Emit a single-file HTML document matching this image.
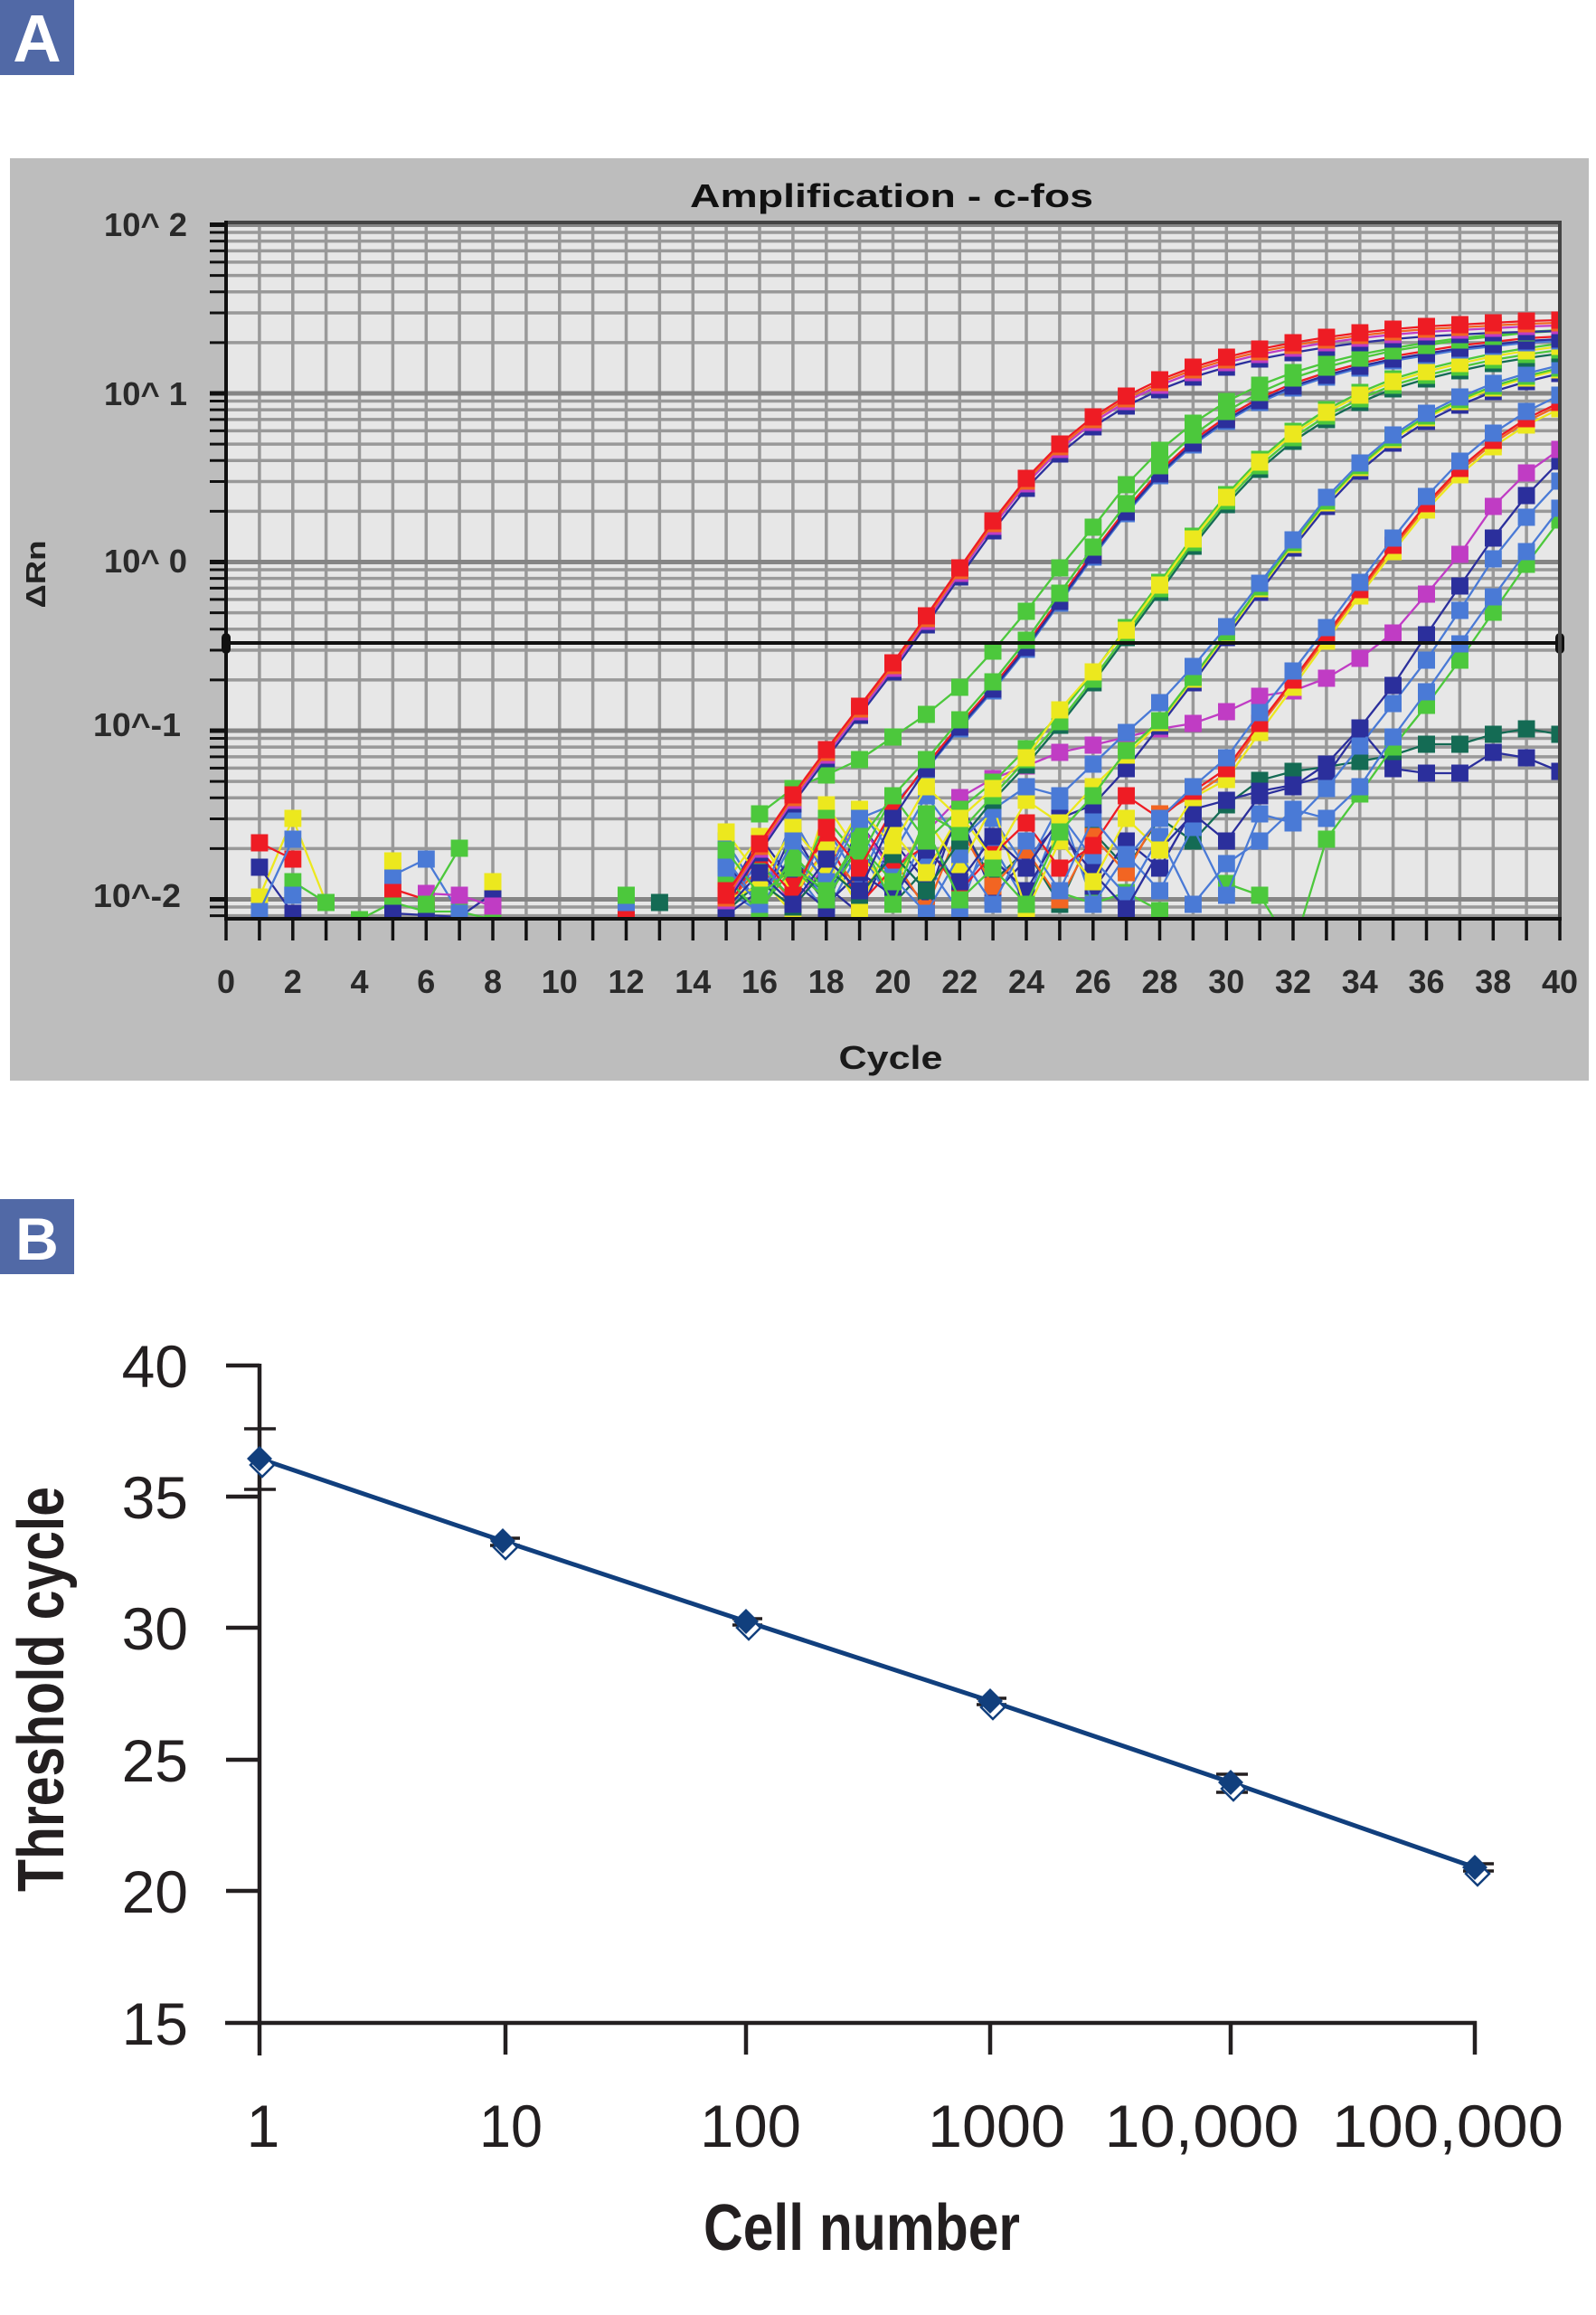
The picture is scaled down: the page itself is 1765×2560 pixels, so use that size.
<!DOCTYPE html>
<html>
<head>
<meta charset="utf-8">
<style>
html,body{margin:0;padding:0;background:#fff;}
body{width:1765px;height:2560px;overflow:hidden;}
svg{display:block;}
.cv polyline{fill:none;stroke-width:2.3;}
.r{stroke:#ee1c24;marker-start:url(#mr);marker-mid:url(#mr);marker-end:url(#mr);}
.g{stroke:#4cc83c;marker-start:url(#mg);marker-mid:url(#mg);marker-end:url(#mg);}
.y{stroke:#ece81e;marker-start:url(#my);marker-mid:url(#my);marker-end:url(#my);}
.b{stroke:#4a7ad6;marker-start:url(#mb);marker-mid:url(#mb);marker-end:url(#mb);}
.n{stroke:#2b2f9c;marker-start:url(#mn);marker-mid:url(#mn);marker-end:url(#mn);}
.m{stroke:#c03cc4;marker-start:url(#mm);marker-mid:url(#mm);marker-end:url(#mm);}
.t{stroke:#146b54;marker-start:url(#mt);marker-mid:url(#mt);marker-end:url(#mt);}
.o{stroke:#f26522;marker-start:url(#mo);marker-mid:url(#mo);marker-end:url(#mo);}
</style>
</head>
<body>
<svg width="1765" height="2560" viewBox="0 0 1765 2560" xmlns="http://www.w3.org/2000/svg" font-family="Liberation Sans, Arial, sans-serif">
<defs>
<clipPath id="pc"><rect x="250" y="246" width="1475" height="770"/></clipPath>
<marker id="mr" viewBox="0 0 19 19" refX="9.5" refY="9.5" markerWidth="19" markerHeight="19" markerUnits="userSpaceOnUse"><rect width="19" height="19" fill="#ee1c24"/></marker>
<marker id="mg" viewBox="0 0 19 19" refX="9.5" refY="9.5" markerWidth="19" markerHeight="19" markerUnits="userSpaceOnUse"><rect width="19" height="19" fill="#4cc83c"/></marker>
<marker id="my" viewBox="0 0 19 19" refX="9.5" refY="9.5" markerWidth="19" markerHeight="19" markerUnits="userSpaceOnUse"><rect width="19" height="19" fill="#ece81e"/></marker>
<marker id="mb" viewBox="0 0 19 19" refX="9.5" refY="9.5" markerWidth="19" markerHeight="19" markerUnits="userSpaceOnUse"><rect width="19" height="19" fill="#4a7ad6"/></marker>
<marker id="mn" viewBox="0 0 19 19" refX="9.5" refY="9.5" markerWidth="19" markerHeight="19" markerUnits="userSpaceOnUse"><rect width="19" height="19" fill="#2b2f9c"/></marker>
<marker id="mm" viewBox="0 0 19 19" refX="9.5" refY="9.5" markerWidth="19" markerHeight="19" markerUnits="userSpaceOnUse"><rect width="19" height="19" fill="#c03cc4"/></marker>
<marker id="mt" viewBox="0 0 19 19" refX="9.5" refY="9.5" markerWidth="19" markerHeight="19" markerUnits="userSpaceOnUse"><rect width="19" height="19" fill="#146b54"/></marker>
<marker id="mo" viewBox="0 0 19 19" refX="9.5" refY="9.5" markerWidth="19" markerHeight="19" markerUnits="userSpaceOnUse"><rect width="19" height="19" fill="#f26522"/></marker>
</defs>

<!-- Panel A label -->
<rect x="0" y="0" width="82" height="83" fill="#5169a6"/>
<text x="41" y="68" font-size="74" font-weight="bold" fill="#fff" text-anchor="middle">A</text>

<!-- Panel A chart background -->
<rect x="11" y="175" width="1746" height="1020" fill="#bdbdbd"/>
<rect x="250" y="246" width="1475" height="770" fill="#e7e7e7"/>

<!-- grid -->
<path fill="none" stroke="#999" stroke-width="3.5" d="M286.9 246V1016M323.8 246V1016M360.6 246V1016M397.5 246V1016M434.4 246V1016M471.3 246V1016M508.1 246V1016M545 246V1016M581.9 246V1016M618.8 246V1016M655.6 246V1016M692.5 246V1016M729.4 246V1016M766.3 246V1016M803.1 246V1016M840 246V1016M876.9 246V1016M913.8 246V1016M950.6 246V1016M987.5 246V1016M1024.4 246V1016M1061.3 246V1016M1098.1 246V1016M1135 246V1016M1171.9 246V1016M1208.8 246V1016M1245.6 246V1016M1282.5 246V1016M1319.4 246V1016M1356.3 246V1016M1393.1 246V1016M1430 246V1016M1466.9 246V1016M1503.8 246V1016M1540.6 246V1016M1577.5 246V1016M1614.4 246V1016M1651.3 246V1016M1688.1 246V1016"/>
<path fill="none" stroke="#999" stroke-width="3.5" d="M250 257H1725M250 266.6H1725M250 277.4H1725M250 289.9H1725M250 304.6H1725M250 322.7H1725M250 346H1725M250 378.9H1725M250 443.5H1725M250 453.1H1725M250 463.9H1725M250 476.4H1725M250 491.1H1725M250 509.2H1725M250 532.5H1725M250 565.4H1725M250 630H1725M250 639.6H1725M250 650.4H1725M250 662.9H1725M250 677.6H1725M250 695.7H1725M250 719H1725M250 751.9H1725M250 816.5H1725M250 826.1H1725M250 836.9H1725M250 849.4H1725M250 864.1H1725M250 882.2H1725M250 905.5H1725M250 938.4H1725M250 1003H1725M250 1012.6H1725"/>
<path fill="none" stroke="#858585" stroke-width="5" d="M250 248.5H1725M250 435H1725M250 621.5H1725M250 808H1725M250 994.5H1725"/>

<!-- curves -->
<g class="cv" clip-path="url(#pc)">
<polyline class="t" points="803.1,980 840,1005 876.9,950 913.8,990 950.6,935 987.5,1000 1024.4,960 1061.3,910 1098.1,975 1135,940 1171.9,1000 1208.8,920 1245.6,960 1282.5,905 1319.4,930 1356.3,890 1393.1,863 1430,853 1466.9,848 1503.8,842 1540.6,835 1577.5,823 1614.4,823 1651.3,812 1688.1,806 1725,812"/>
<polyline class="n" points="803.1,955 840,1000 876.9,920 913.8,980 950.6,1010 987.5,930 1024.4,975 1061.3,900 1098.1,990 1135,950 1171.9,910 1208.8,985 1245.6,930 1282.5,960 1319.4,895 1356.3,885 1393.1,875 1430,868 1466.9,858 1503.8,806 1540.6,850 1577.5,855 1614.4,855 1651.3,832 1688.1,838 1725,853"/>
<polyline class="g" points="1171.9,987 1208.8,999 1245.6,987 1282.5,1007"/>
<polyline class="g" points="1356.3,977 1393.1,990 1430,1050 1466.9,928 1503.8,878 1540.6,826 1577.5,780 1614.4,730 1651.3,677 1688.1,624 1725,575"/>
<polyline class="b" points="803.1,930 840,990 876.9,960 913.8,1010 950.6,940 987.5,1000 1024.4,920 1061.3,985 1098.1,935 1135,1000 1171.9,900 1208.8,950 1245.6,990 1282.5,925 1319.4,1000 1356.3,955 1393.1,930 1430,895 1466.9,905 1503.8,870 1540.6,815 1577.5,765 1614.4,712 1651.3,660 1688.1,610 1725,562"/>
<polyline class="b" points="803.1,1005 840,950 876.9,1000 913.8,915 950.6,975 987.5,895 1024.4,955 1061.3,1008 1098.1,905 1135,960 1171.9,890 1208.8,1000 1245.6,945 1282.5,985 1319.4,915 1356.3,990 1393.1,900 1430,910 1466.9,872 1503.8,825 1540.6,778 1577.5,730 1614.4,675 1651.3,618 1688.1,572 1725,532"/>
<polyline class="n" points="803.1,995 840,925 876.9,975 913.8,1005 950.6,910 987.5,960 1024.4,1000 1061.3,890 1098.1,950 1135,985 1171.9,920 1208.8,965 1245.6,1005 1282.5,940 1319.4,900 1356.3,930 1393.1,880 1430,870 1466.9,845 1503.8,805 1540.6,758 1577.5,702 1614.4,648 1651.3,595 1688.1,548 1725,510"/>
<polyline class="m" points="803.1,985 840,940 876.9,1005 913.8,955 950.6,910 987.5,965 1024.4,920 1061.3,882 1098.1,861 1135,847 1171.9,832 1208.8,824 1245.6,815 1282.5,806 1319.4,800 1356.3,787 1393.1,770 1430,764 1466.9,750 1503.8,728 1540.6,700 1577.5,657 1614.4,613 1651.3,560 1688.1,523 1725,497"/>
<polyline class="o" points="803.1,1000 840,960 876.9,995 913.8,935 950.6,985 987.5,950 1024.4,1005 1061.3,915 1098.1,980 1135,940 1171.9,995 1208.8,925 1245.6,965 1282.5,900 1319.4,880 1356.3,855 1393.1,803 1430,755 1466.9,705 1503.8,655 1540.6,606 1577.5,560 1614.4,521 1651.3,490 1688.1,466 1725,448"/>
<polyline class="y" points="803.1,920 840,970 876.9,1010 913.8,890 950.6,945 987.5,985 1024.4,905 1061.3,960 1098.1,890 1135,1008 1171.9,930 1208.8,975 1245.6,905 1282.5,940 1319.4,882 1356.3,862 1393.1,810 1430,760 1466.9,709 1503.8,659 1540.6,610 1577.5,564 1614.4,525 1651.3,494 1688.1,470 1725,452"/>
<polyline class="r" points="803.1,1010 840,940 876.9,980 913.8,925 950.6,1000 987.5,960 1024.4,935 1061.3,985 1098.1,945 1135,910 1171.9,960 1208.8,935 1245.6,880 1282.5,905 1319.4,875 1356.3,850 1393.1,800 1430,752 1466.9,702 1503.8,652 1540.6,603 1577.5,557 1614.4,518 1651.3,487 1688.1,463 1725,445"/>
<polyline class="b" points="803.1,985 840,1008 876.9,940 913.8,1000 950.6,920 987.5,970 1024.4,1010 1061.3,945 1098.1,1000 1135,930 1171.9,985 1208.8,905 1245.6,950 1282.5,905 1319.4,870 1356.3,838 1393.1,788 1430,742 1466.9,694 1503.8,644 1540.6,595 1577.5,549 1614.4,510 1651.3,479 1688.1,455 1725,437"/>
<polyline class="n" points="803.1,1012 840,985 876.9,950 913.8,1000 950.6,965 987.5,990 1024.4,940 1061.3,975 1098.1,925 1135,960 1171.9,905 1208.8,890 1245.6,850 1282.5,803 1319.4,755 1356.3,705 1393.1,655 1430,606 1466.9,560 1503.8,521 1540.6,490 1577.5,466 1614.4,448 1651.3,433 1688.1,422 1725,413"/>
<polyline class="y" points="803.1,975 840,925 876.9,990 913.8,940 950.6,1005 987.5,920 1024.4,965 1061.3,900 1098.1,950 1135,885 1171.9,910 1208.8,870 1245.6,835 1282.5,799 1319.4,751 1356.3,701 1393.1,651 1430,602 1466.9,556 1503.8,517 1540.6,486 1577.5,462 1614.4,444 1651.3,429 1688.1,418 1725,409"/>
<polyline class="g" points="840,1005 876.9,960 913.8,995 950.6,935 987.5,975 1024.4,915 1061.3,995 1098.1,960 1135,1000 1171.9,920 1208.8,880 1245.6,830 1282.5,797 1319.4,749 1356.3,699 1393.1,649 1430,600 1466.9,554 1503.8,515 1540.6,484 1577.5,460 1614.4,442 1651.3,427 1688.1,416 1725,407"/>
<polyline class="b" points="803.1,950 840,1000 876.9,905 913.8,970 950.6,895 987.5,945 1024.4,880 1061.3,930 1098.1,895 1135,870 1171.9,880 1208.8,845 1245.6,810 1282.5,777 1319.4,737 1356.3,693 1393.1,645 1430,597 1466.9,550 1503.8,512 1540.6,481 1577.5,457 1614.4,439 1651.3,424 1688.1,413 1725,404"/>
<polyline class="t" points="803.1,1008 840,975 876.9,1003 913.8,960 950.6,990 987.5,945 1024.4,985 1061.3,930 1098.1,885 1135,846 1171.9,802 1208.8,755 1245.6,705 1282.5,655 1319.4,604 1356.3,558 1393.1,519 1430,488 1466.9,464 1503.8,445 1540.6,430 1577.5,419 1614.4,410 1651.3,402 1688.1,396 1725,391"/>
<polyline class="g" points="803.1,970 840,1010 876.9,945 913.8,985 950.6,925 987.5,1000 1024.4,900 1061.3,920 1098.1,880 1135,840 1171.9,798 1208.8,751 1245.6,701 1282.5,651 1319.4,600 1356.3,554 1393.1,515 1430,484 1466.9,460 1503.8,441 1540.6,426 1577.5,415 1614.4,406 1651.3,398 1688.1,392 1725,387"/>
<polyline class="g" points="840,955 876.9,995 913.8,905 950.6,950 987.5,880 1024.4,930 1061.3,895 1098.1,865 1135,828 1171.9,790 1208.8,744 1245.6,694 1282.5,644 1319.4,593 1356.3,547 1393.1,508 1430,477 1466.9,453 1503.8,434 1540.6,419 1577.5,408 1614.4,399 1651.3,391 1688.1,385 1725,380"/>
<polyline class="y" points="803.1,995 840,980 876.9,915 913.8,960 950.6,895 987.5,935 1024.4,870 1061.3,905 1098.1,872 1135,838 1171.9,785 1208.8,743 1245.6,697 1282.5,647 1319.4,596 1356.3,550 1393.1,511 1430,480 1466.9,456 1503.8,437 1540.6,422 1577.5,411 1614.4,402 1651.3,394 1688.1,388 1725,383"/>
<polyline class="g" points="840,900 876.9,872 913.8,857 950.6,840 987.5,815 1024.4,790 1061.3,760 1098.1,720 1135,676 1171.9,628 1208.8,583 1245.6,536 1282.5,498 1319.4,468 1356.3,444 1393.1,426 1430,412 1466.9,401 1503.8,392 1540.6,385 1577.5,379 1614.4,374 1651.3,370 1688.1,367 1725,365"/>
<polyline class="b" points="803.1,960 840,1000 876.9,930 913.8,975 950.6,905 987.5,890 1024.4,851 1061.3,806 1098.1,764 1135,718 1171.9,667 1208.8,616 1245.6,568 1282.5,526 1319.4,492 1356.3,466 1393.1,445 1430,429 1466.9,417 1503.8,407 1540.6,399 1577.5,393 1614.4,387 1651.3,383 1688.1,379 1725,377"/>
<polyline class="r" points="803.1,985 840,945 876.9,990 913.8,915 950.6,960 987.5,895 1024.4,846 1061.3,801 1098.1,759 1135,713 1171.9,662 1208.8,611 1245.6,563 1282.5,521 1319.4,487 1356.3,461 1393.1,440 1430,424 1466.9,412 1503.8,402 1540.6,394 1577.5,388 1614.4,382 1651.3,378 1688.1,374 1725,372"/>
<polyline class="n" points="803.1,1005 840,965 876.9,1000 913.8,950 950.6,985 987.5,905 1024.4,850 1061.3,804 1098.1,762 1135,716 1171.9,665 1208.8,614 1245.6,566 1282.5,524 1319.4,490 1356.3,464 1393.1,443 1430,427 1466.9,415 1503.8,405 1540.6,397 1577.5,391 1614.4,385 1651.3,381 1688.1,377 1725,375"/>
<polyline class="g" points="803.1,940 840,990 876.9,960 913.8,985 950.6,930 987.5,880 1024.4,840 1061.3,796 1098.1,754 1135,708 1171.9,656 1208.8,605 1245.6,557 1282.5,515 1319.4,481 1356.3,455 1393.1,434 1430,418 1466.9,406 1503.8,396 1540.6,388 1577.5,382 1614.4,376 1651.3,372 1688.1,368 1725,366"/>
<polyline class="n" points="803.1,1000 840,943 876.9,889 913.8,839 950.6,791 987.5,743 1024.4,691 1061.3,638 1098.1,587 1135,540 1171.9,502 1208.8,472 1245.6,449 1282.5,431 1319.4,417 1356.3,406 1393.1,397 1430,390 1466.9,384 1503.8,379 1540.6,375 1577.5,372 1614.4,370 1651.3,368 1688.1,367 1725,366"/>
<polyline class="m" points="803.1,996 840,939 876.9,885 913.8,835 950.6,787 987.5,739 1024.4,687 1061.3,634 1098.1,582 1135,535 1171.9,497 1208.8,467 1245.6,444 1282.5,426 1319.4,412 1356.3,401 1393.1,392 1430,385 1466.9,379 1503.8,374 1540.6,370 1577.5,367 1614.4,365 1651.3,363 1688.1,361 1725,360"/>
<polyline class="o" points="803.1,993 840,936 876.9,882 913.8,832 950.6,784 987.5,736 1024.4,684 1061.3,631 1098.1,579 1135,532 1171.9,494 1208.8,464 1245.6,441 1282.5,423 1319.4,409 1356.3,398 1393.1,389 1430,382 1466.9,376 1503.8,371 1540.6,367 1577.5,364 1614.4,362 1651.3,360 1688.1,358 1725,357"/>
<polyline class="r" points="803.1,990 840,933 876.9,879 913.8,829 950.6,781 987.5,733 1024.4,681 1061.3,628 1098.1,576 1135,529 1171.9,491 1208.8,461 1245.6,438 1282.5,420 1319.4,406 1356.3,395 1393.1,386 1430,379 1466.9,373 1503.8,368 1540.6,364 1577.5,361 1614.4,359 1651.3,357 1688.1,355 1725,354"/>

<!-- early cycle points -->
<polyline class="y" points="286.9,992 323.8,905 360.6,998"/>
<polyline class="r" points="286.9,932 323.8,950"/>
<polyline class="n" points="286.9,959 323.8,1010"/>
<polyline class="b" points="286.9,1008 323.8,928"/>
<polyline class="g" points="323.8,975 360.6,998"/>
<polyline class="t" points="397.5,1017 434.4,1016"/>
<polyline class="g" points="397.5,1017 434.4,998 471.3,1008 508.1,1008 545,1017"/>
<polyline class="n" points="434.4,1010 471.3,1012 508.1,1014 545,988"/>
<polyline class="r" points="434.4,983 471.3,995"/>
<polyline class="b" points="434.4,968 471.3,950 508.1,1010"/>
<polyline class="m" points="471.3,988 508.1,990 545,1002"/>
<polyline class="g" points="471.3,1000 508.1,938"/>
<rect x="314.3" y="980.5" width="19" height="19" fill="#4a7ad6"/>
<rect x="424.9" y="942.5" width="19" height="19" fill="#ece81e"/>
<rect x="535.5" y="965.5" width="19" height="19" fill="#ece81e"/>
<rect x="683" y="1006.5" width="19" height="19" fill="#ee1c24"/>
<rect x="683" y="988.5" width="19" height="19" fill="#4a7ad6"/>
<rect x="683" y="980.5" width="19" height="19" fill="#4cc83c"/>
<rect x="719.9" y="988.5" width="19" height="19" fill="#146b54"/>
</g>

<!-- threshold -->
<line x1="250" y1="711" x2="1725" y2="711" stroke="#111" stroke-width="4"/>
<rect x="245" y="700" width="10" height="23" rx="5" fill="#111"/>
<rect x="1720" y="700" width="10" height="23" rx="5" fill="#111"/>

<!-- borders / axes -->
<line x1="250" y1="246" x2="1727" y2="246" stroke="#444" stroke-width="4"/>
<line x1="1725" y1="244" x2="1725" y2="1018" stroke="#444" stroke-width="4"/>
<line x1="250" y1="244" x2="250" y2="1018" stroke="#111" stroke-width="4"/>
<line x1="248" y1="1016" x2="1727" y2="1016" stroke="#111" stroke-width="4"/>
<!-- left ticks -->
<path fill="none" stroke="#111" stroke-width="3" d="M232 257H250M232 266.6H250M232 277.4H250M232 289.9H250M232 304.6H250M232 322.7H250M232 346H250M232 378.9H250M232 443.5H250M232 453.1H250M232 463.9H250M232 476.4H250M232 491.1H250M232 509.2H250M232 532.5H250M232 565.4H250M232 630H250M232 639.6H250M232 650.4H250M232 662.9H250M232 677.6H250M232 695.7H250M232 719H250M232 751.9H250M232 816.5H250M232 826.1H250M232 836.9H250M232 849.4H250M232 864.1H250M232 882.2H250M232 905.5H250M232 938.4H250M232 1003H250M232 1012.6H250"/>
<path fill="none" stroke="#111" stroke-width="5" d="M232 248.5H250M232 435H250M232 621.5H250M232 808H250M232 994.5H250"/>
<!-- bottom ticks -->
<path fill="none" stroke="#111" stroke-width="3.5" d="M250 1016V1040M286.9 1016V1040M323.8 1016V1040M360.6 1016V1040M397.5 1016V1040M434.4 1016V1040M471.3 1016V1040M508.1 1016V1040M545 1016V1040M581.9 1016V1040M618.8 1016V1040M655.6 1016V1040M692.5 1016V1040M729.4 1016V1040M766.3 1016V1040M803.1 1016V1040M840 1016V1040M876.9 1016V1040M913.8 1016V1040M950.6 1016V1040M987.5 1016V1040M1024.4 1016V1040M1061.3 1016V1040M1098.1 1016V1040M1135 1016V1040M1171.9 1016V1040M1208.8 1016V1040M1245.6 1016V1040M1282.5 1016V1040M1319.4 1016V1040M1356.3 1016V1040M1393.1 1016V1040M1430 1016V1040M1466.9 1016V1040M1503.8 1016V1040M1540.6 1016V1040M1577.5 1016V1040M1614.4 1016V1040M1651.3 1016V1040M1688.1 1016V1040M1725 1016V1040"/>

<!-- Title -->
<text x="986" y="229" font-size="36" font-weight="bold" fill="#111" text-anchor="middle" textLength="446" lengthAdjust="spacingAndGlyphs">Amplification - c-fos</text>

<!-- Y labels A -->
<g font-size="36" font-weight="bold" fill="#2a2a2a" text-anchor="end">
<text x="207" y="261" textLength="92" lengthAdjust="spacingAndGlyphs">10^ 2</text>
<text x="207" y="448" textLength="92" lengthAdjust="spacingAndGlyphs">10^ 1</text>
<text x="207" y="633" textLength="92" lengthAdjust="spacingAndGlyphs">10^ 0</text>
<text x="200" y="814" textLength="97" lengthAdjust="spacingAndGlyphs">10^-1</text>
<text x="200" y="1003" textLength="97" lengthAdjust="spacingAndGlyphs">10^-2</text>
</g>
<text transform="translate(50,635) rotate(-90)" font-size="31" font-weight="bold" fill="#222" text-anchor="middle" textLength="75" lengthAdjust="spacingAndGlyphs">ΔRn</text>

<!-- X labels A -->
<g font-size="36" font-weight="bold" fill="#2a2a2a" text-anchor="middle">
<text x="250" y="1098">0</text>
<text x="323.75" y="1098">2</text>
<text x="397.5" y="1098">4</text>
<text x="471.25" y="1098">6</text>
<text x="545" y="1098">8</text>
<text x="618.75" y="1098">10</text>
<text x="692.5" y="1098">12</text>
<text x="766.25" y="1098">14</text>
<text x="840" y="1098">16</text>
<text x="913.75" y="1098">18</text>
<text x="987.5" y="1098">20</text>
<text x="1061.25" y="1098">22</text>
<text x="1135" y="1098">24</text>
<text x="1208.75" y="1098">26</text>
<text x="1282.5" y="1098">28</text>
<text x="1356.25" y="1098">30</text>
<text x="1430" y="1098">32</text>
<text x="1503.75" y="1098">34</text>
<text x="1577.5" y="1098">36</text>
<text x="1651.25" y="1098">38</text>
<text x="1725" y="1098">40</text>
</g>
<text x="985" y="1182" font-size="36" font-weight="bold" fill="#1a1a1a" text-anchor="middle" textLength="115" lengthAdjust="spacingAndGlyphs">Cycle</text>

<!-- Panel B label -->
<rect x="0" y="1326" width="82" height="83" fill="#5169a6"/>
<text x="41" y="1393" font-size="66" font-weight="bold" fill="#fff" text-anchor="middle">B</text>

<!-- Panel B axes -->
<g stroke="#231f20" stroke-width="4.5" fill="none">
<line x1="287" y1="1508" x2="287" y2="2273"/>
<line x1="249" y1="2237" x2="1633" y2="2237"/>
<line x1="250" y1="1510" x2="287" y2="1510"/>
<line x1="250" y1="1655" x2="287" y2="1655"/>
<line x1="250" y1="1800" x2="287" y2="1800"/>
<line x1="250" y1="1946" x2="287" y2="1946"/>
<line x1="250" y1="2091" x2="287" y2="2091"/>
<line x1="559" y1="2237" x2="559" y2="2272"/>
<line x1="825" y1="2237" x2="825" y2="2272"/>
<line x1="1095" y1="2237" x2="1095" y2="2272"/>
<line x1="1361" y1="2237" x2="1361" y2="2272"/>
<line x1="1631" y1="2235" x2="1631" y2="2272"/>
</g>

<!-- Y labels B -->
<g font-size="66" fill="#231f20" text-anchor="end">
<text x="208" y="1534">40</text>
<text x="208" y="1679">35</text>
<text x="208" y="1824">30</text>
<text x="208" y="1970">25</text>
<text x="208" y="2115">20</text>
<text x="208" y="2261">15</text>
</g>
<text transform="translate(70,1868) rotate(-90)" font-size="72" font-weight="bold" fill="#231f20" text-anchor="middle" textLength="448" lengthAdjust="spacingAndGlyphs">Threshold cycle</text>

<!-- X labels B -->
<g font-size="66" fill="#231f20" text-anchor="middle">
<text x="291" y="2374">1</text>
<text x="565" y="2374" textLength="70" lengthAdjust="spacingAndGlyphs">10</text>
<text x="830" y="2374" textLength="112" lengthAdjust="spacingAndGlyphs">100</text>
<text x="1102" y="2374" textLength="152" lengthAdjust="spacingAndGlyphs">1000</text>
<text x="1329" y="2374" textLength="215" lengthAdjust="spacingAndGlyphs">10,000</text>
<text x="1601" y="2374" textLength="256" lengthAdjust="spacingAndGlyphs">100,000</text>
</g>
<text x="953" y="2488" font-size="72" font-weight="bold" fill="#231f20" text-anchor="middle" textLength="350" lengthAdjust="spacingAndGlyphs">Cell number</text>

<!-- Panel B data -->
<g stroke="#231f20" stroke-width="3.5">
<line x1="270" y1="1580" x2="305" y2="1580"/>
<line x1="270" y1="1647" x2="305" y2="1647"/>
<line x1="287" y1="1580" x2="287" y2="1647"/>
<line x1="542" y1="1701" x2="575" y2="1701"/>
<line x1="542" y1="1709" x2="575" y2="1709"/>
<line x1="810" y1="1790" x2="843" y2="1790"/>
<line x1="810" y1="1797" x2="843" y2="1797"/>
<line x1="1080" y1="1878" x2="1113" y2="1878"/>
<line x1="1080" y1="1885" x2="1113" y2="1885"/>
<line x1="1345" y1="1962" x2="1380" y2="1962"/>
<line x1="1345" y1="1982" x2="1380" y2="1982"/>
<line x1="1618" y1="2061" x2="1652" y2="2061"/>
<line x1="1618" y1="2069" x2="1652" y2="2069"/>
</g>
<polyline points="287,1613 556,1704 825,1793 1095,1881 1361,1971 1631,2065" fill="none" stroke="#113f7d" stroke-width="5"/>
<g fill="#fff" stroke="#113f7d" stroke-width="2.5">
<polygon points="290,1607 303,1620 290,1633 277,1620"/>
<polygon points="559,1698 572,1711 559,1724 546,1711"/>
<polygon points="828,1787 841,1800 828,1813 815,1800"/>
<polygon points="1098,1875 1111,1888 1098,1901 1085,1888"/>
<polygon points="1364,1965 1377,1978 1364,1991 1351,1978"/>
<polygon points="1634,2059 1647,2072 1634,2085 1621,2072"/>
</g>
<g fill="#113f7d">
<polygon points="287,1599 301,1613 287,1627 273,1613"/>
<polygon points="556,1690 570,1704 556,1718 542,1704"/>
<polygon points="825,1779 839,1793 825,1807 811,1793"/>
<polygon points="1095,1867 1109,1881 1095,1895 1081,1881"/>
<polygon points="1361,1957 1375,1971 1361,1985 1347,1971"/>
<polygon points="1631,2051 1645,2065 1631,2079 1617,2065"/>
</g>
</svg>
</body>
</html>
